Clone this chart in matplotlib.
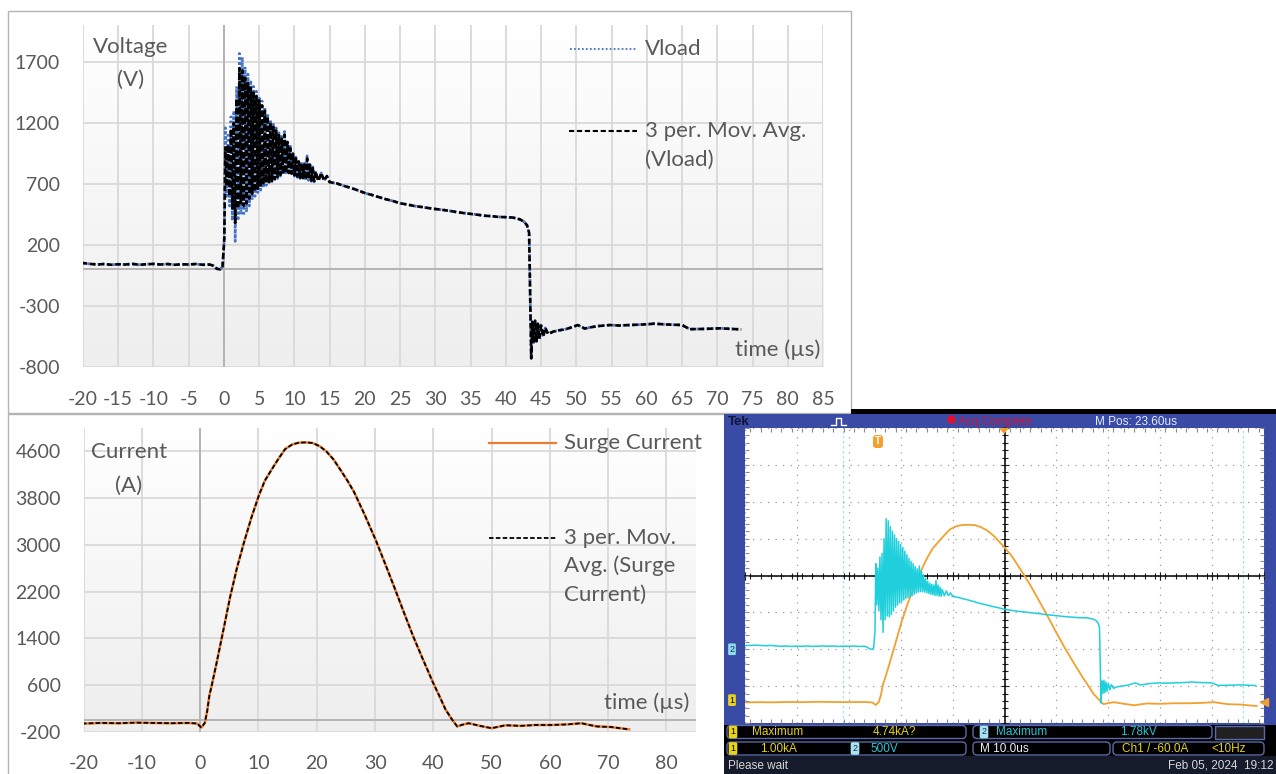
import numpy as np
import matplotlib.pyplot as plt
from matplotlib.colors import LinearSegmentedColormap
from matplotlib.patches import Rectangle, FancyBboxPatch, Polygon
from matplotlib.ticker import MultipleLocator

plt.rcParams['font.family'] = ['Lato', 'DejaVu Sans']
plt.rcParams['axes.unicode_minus'] = False

W, H = 1276, 774

# Vload (V) over time (us)
pre_t = [-25, -23, -21, -20, -19, -18, -17, -16, -15, -14, -13, -12, -11, -10, -9, -8,
         -7, -6, -5, -4, -3, -2, -1.5, -1.0, -0.5, -0.2, 0.05]
pre_v = [50, 55, 48, 52, 45, 40, 44, 38, 42, 40, 45, 38, 42, 45, 40, 44,
         38, 42, 40, 44, 38, 40, 30, 5, 0, 25, 250]

# ringing after the surge: peaks and dips of Vload and of its moving average
osc_t = [0.2, 0.4, 0.6, 0.8, 1.0, 1.2, 1.4, 1.6, 1.8, 2.0, 2.2, 2.4, 2.6, 2.8, 3.0,
         3.2, 3.4, 3.6, 3.8, 4.0, 4.2, 4.4, 4.6, 4.8, 5.0, 5.2, 5.4, 5.6, 5.8, 6.0,
         6.2, 6.4, 6.6, 6.8, 7.0, 7.2, 7.4, 7.6, 7.8, 8.0, 8.2, 8.4, 8.6, 8.8, 9.0,
         9.2, 9.4, 9.6, 9.8, 10.0, 10.2, 10.4, 10.6, 10.8, 11.0, 11.2, 11.4, 11.6, 11.8,
         12.0, 12.2, 12.4, 12.6, 12.8, 13.0]
osc_v = [1160, 600, 1100, 520, 1250, 400, 1300, 230, 1500, 400,
         1770, 450, 1740, 440, 1660, 470, 1600, 520, 1550, 570,
         1500, 600, 1460, 630, 1420, 650, 1380, 670, 1330, 690,
         1280, 700, 1230, 710, 1190, 725, 1160, 745, 1120, 765,
         1090, 775, 1130, 780, 1060, 780, 1010, 775, 960, 765,
         920, 755, 895, 745, 880, 740, 870, 730, 930, 730,
         870, 722, 840, 718, 810]
osc_avg = [1000, 680, 1020, 600, 1150, 500, 1200, 380, 1400, 500,
           1650, 540, 1630, 520, 1570, 540, 1530, 580, 1490, 620,
           1450, 640, 1420, 660, 1385, 680, 1345, 695, 1300, 710,
           1255, 715, 1205, 725, 1170, 740, 1140, 758, 1100, 775,
           1072, 785, 1105, 790, 1045, 790, 995, 785, 948, 772,
           910, 762, 885, 752, 870, 748, 860, 738, 910, 738,
           860, 728, 830, 724, 800]

post_t = [13.4, 13.8, 14.2, 14.6, 15.0, 16, 17, 18, 19, 20, 21, 22, 23, 24, 25, 26, 27,
          28, 29, 30, 31, 32, 33, 34, 35, 36, 37, 38, 39, 40, 41, 42, 42.6, 43.0, 43.3,
          43.45, 43.6, 43.75, 43.95, 44.15, 44.35, 44.55, 44.75, 45.0, 45.3, 45.6, 46.0,
          46.7, 47.5, 48.5, 49.5, 50.2, 51.2, 52.0, 53.0, 54.8, 56, 58, 60, 61, 63, 65,
          66.1, 68, 70.4, 72, 73.4]
post_v = [725, 790, 728, 765, 715, 705, 685, 668, 648, 626, 610, 592, 575, 560, 542, 532,
          520, 512, 503, 495, 488, 480, 470, 462, 455, 448, 440, 436, 430, 428, 425, 410,
          390, 362, 300, -200, -730, -430, -600, -420, -590, -445, -570, -460, -550, -480,
          -530, -510, -500, -490, -472, -456, -485, -475, -465, -456, -460, -455, -450,
          -445, -452, -456, -490, -488, -483, -488, -492]

vload_t = pre_t + osc_t + post_t
vload_v = pre_v + osc_v + post_v
vload_avg = pre_v + osc_avg + post_v

# Surge current (A) over time (us)
surge_t = [-25, -22, -20, -17, -14, -11, -8, -5, -2, -0.5,
           0.2, 0.79, 1.2, 1.58, 2.0, 2.76, 4.0, 5.12, 6.3, 7.48,
           8.8, 10.08, 11.1, 12.2, 13.4, 14.57, 15.8, 16.93, 18.1, 19.3,
           20.5, 21.66, 22.9, 24.03, 25.2, 26.38, 28.2, 30.09, 31.8, 33.48,
           35.0, 36.6, 38.3, 40.0, 41.0, 42.1, 43.2, 44.1, 45.0, 46.07,
           48.0, 50.0, 52.4, 55.0, 57.5, 60.3, 63.0, 65.4, 66.8, 68.1,
           70.5, 72.0, 73.6]
surge_a = [-60, -55, -60, -50, -55, -45, -50, -55, -50, -60,
           -130, -50, 150, 420, 600, 950, 1550, 2100, 2600, 3030,
           3470, 3850, 4100, 4280, 4470, 4640, 4720, 4750, 4755, 4745,
           4690, 4600, 4460, 4290, 4110, 3910, 3520, 3090, 2660, 2230,
           1830, 1420, 1020, 630, 420, 180, 10, -110, -80, -55,
           -100, -140, -90, -100, -85, -85, -75, -55, -85, -110,
           -120, -140, -160]
surge_avg = surge_a

volt_xticks = list(range(-20, 86, 5))
volt_yticks = [-800, -300, 200, 700, 1200, 1700]
curr_xticks = list(range(-20, 81, 10))
curr_yticks = [-200, 600, 1400, 2200, 3000, 3800, 4600]

# oscilloscope settings
ch2_pos, ch1_pos = -2.0, -3.38          # ground markers, divisions
volts_div, amps_div = 500, 1000
cursor_t = [-6.2, 71.0]
trig_level = -60.0

fig = plt.figure(figsize=(W / 100, H / 100), dpi=100)


def box(x0, y0, x1, y1):
    return [x0 / W, 1 - y1 / H, (x1 - x0) / W, (y1 - y0) / H]


back = fig.add_axes([0, 0, 1, 1], zorder=0)
back.set_xlim(0, W)
back.set_ylim(H, 0)
back.axis('off')
front = fig.add_axes([0, 0, 1, 1], zorder=10)
front.set_xlim(0, W)
front.set_ylim(H, 0)
front.axis('off')

# chart frames
back.add_patch(Rectangle((8, 11), 843, 402, fill=False, ec='#b4b4b4', lw=1))
back.add_patch(Rectangle((8, 414), 740, 380, fill=False, ec='#b4b4b4', lw=1))

bg_cmap = LinearSegmentedColormap.from_list('plotbg', ['#eeeeee', '#ffffff'])


def excel_axes(px, xlim, ylim, xt, yt):
    ax = fig.add_axes(box(*px), zorder=2)
    ax.imshow(np.linspace(0, 1, 256).reshape(-1, 1), cmap=bg_cmap, origin='lower',
              extent=[0, 1, 0, 1], transform=ax.transAxes, aspect='auto', zorder=-1)
    ax.set_xlim(xlim)
    ax.set_ylim(ylim)
    ax.set_xticks(xt)
    ax.set_yticks(yt)
    ax.grid(True, color='#d9d9d9', lw=1.3)
    ax.set_axisbelow(True)
    ax.axhline(0, color='#b4b4b4', lw=1.4, zorder=1)
    ax.axvline(0, color='#b4b4b4', lw=1.4, zorder=1)
    for s in ax.spines.values():
        s.set_visible(False)
    ax.tick_params(length=0, labelsize=14, labelcolor='#595959')
    ax.tick_params(axis='x', pad=17)
    ax.tick_params(axis='y', pad=16.5)
    return ax


# --- Voltage chart ---
ax1 = excel_axes((83, 25.4, 823, 367), (-20, 85), (-800, 2000), volt_xticks, volt_yticks)
ax1.plot(vload_t, vload_v, color='#4472c4', lw=2.0, ls=(0, (0.8, 1.0)), zorder=2)
ax1.plot(vload_t, vload_avg, color='black', lw=1.9, ls=(0, (2.2, 1.0)), zorder=3)

# --- Current chart ---
ax2 = excel_axes((83.6, 428.1, 695.6, 731.7), (-20, 85), (-200, 5000), curr_xticks, curr_yticks)
ax2.plot(surge_t, surge_a, color='#ed7d31', lw=1.8, zorder=2)
ax2.plot(surge_t, surge_avg, color='black', lw=1.3, ls=(0, (2.5, 1.3)), zorder=3)

txt = dict(color='#595959', fontsize=16, va='center')
front.text(131, 47, 'Voltage', ha='center', **txt)
front.text(131, 80, '(V)', ha='center', **txt)
front.text(820, 350, 'time (µs)', ha='right', **txt)
front.text(129, 452, 'Current', ha='center', **txt)
front.text(129, 486, '(A)', ha='center', **txt)
front.text(689, 703, 'time (µs)', ha='right', **txt)

front.plot([570, 636], [49, 49], color='#4472c4', lw=1.3, ls=(0, (1, 1.2)))
front.text(645, 49, 'Vload', ha='left', **txt)
front.plot([569, 637], [131, 131], color='black', lw=1.5, ls=(0, (2.5, 1.3)))
front.text(645, 131, '3 per. Mov. Avg.', ha='left', **txt)
front.text(645, 160, '(Vload)', ha='left', **txt)

front.plot([489, 556], [443, 443], color='#ed7d31', lw=1.6)
front.text(564, 443, 'Surge Current', ha='left', **txt)
front.plot([489, 556], [538, 538], color='black', lw=1.3, ls=(0, (2.5, 1.3)))
front.text(564, 538, '3 per. Mov.', ha='left', **txt)
front.text(564, 566, 'Avg. (Surge', ha='left', **txt)
front.text(564, 595, 'Current)', ha='left', **txt)

# --- Oscilloscope screenshot ---
back.add_patch(Rectangle((851, 409), 425, 5, fc='black', ec='none'))
back.add_patch(Rectangle((724, 414), 552, 311, fc='#3a4ba6', ec='none'))
back.add_patch(Rectangle((724, 725), 552, 31, fc='black', ec='none'))
back.add_patch(Rectangle((724, 756), 552, 18, fc='#161b2c', ec='none'))

gax = fig.add_axes(box(745, 428, 1264, 723), zorder=3)
gax.set_facecolor('white')
gax.set_xlim(-25, 75)
gax.set_ylim(-4, 4)
gax.set_xticks(list(range(-25, 76, 10)))
gax.set_yticks(list(range(-4, 5)))
gax.xaxis.set_minor_locator(MultipleLocator(2))
gax.yaxis.set_minor_locator(MultipleLocator(0.2))
gax.grid(True, which='major', color='#9a9a9a', lw=0.9, ls=(0, (1, 5)))
gax.spines['left'].set_position(('data', 25))
gax.spines['bottom'].set_position(('data', 0))
gax.spines['top'].set_visible(False)
gax.spines['right'].set_visible(False)
gax.spines['left'].set_linewidth(1.1)
gax.spines['bottom'].set_linewidth(1.1)
gax.tick_params(which='both', direction='inout', labelleft=False, labelbottom=False,
                color='#222222', width=0.8)
gax.tick_params(which='major', length=6)
gax.tick_params(which='minor', length=4)
for t in cursor_t:
    gax.axvline(t, color='#9fe6ee', lw=0.9, ls=(0, (2, 2)), zorder=1)

gax.plot(surge_t, [a / amps_div + ch1_pos for a in surge_a], color='#f2a02e', lw=1.3, zorder=4)
gax.plot(vload_t, [v / volts_div + ch2_pos for v in vload_v], color='#1fd0dc', lw=1.1, zorder=5)

eax = fig.add_axes(box(745, 428, 1264, 723), zorder=4, frameon=False)
eax.set_xlim(-25, 75)
eax.set_ylim(-4, 4)
eax.set_xticks([])
eax.set_yticks([])
eax.xaxis.set_minor_locator(MultipleLocator(2))
eax.yaxis.set_minor_locator(MultipleLocator(0.2))
eax.tick_params(which='minor', direction='in', top=True, bottom=True, left=True, right=True,
                length=3, color='#8a8a8a', width=0.8)

# channel ground markers and trigger level
gax.annotate('2', xy=(-25, ch2_pos), xytext=(-13, 0), textcoords='offset pixels',
             ha='center', va='center', fontsize=6.5, family='Liberation Sans', color='#1a2a60',
             annotation_clip=False,
             bbox=dict(boxstyle='round,pad=0.15', fc='#8fdcec', ec='none'))
gax.annotate('1', xy=(-25, ch1_pos), xytext=(-13, 0), textcoords='offset pixels',
             ha='center', va='center', fontsize=6.5, family='Liberation Sans', color='black',
             annotation_clip=False,
             bbox=dict(boxstyle='round,pad=0.15', fc='#e8d41c', ec='none'))
gax.plot([75], [trig_level / amps_div + ch1_pos], marker='<', color='#f2a02e', ms=6,
         clip_on=False, zorder=6)

# trigger position and expansion markers
front.add_patch(FancyBboxPatch((873, 435), 10, 13, boxstyle='round,pad=0,rounding_size=3',
                               fc='#f2a02e', ec='none'))
front.text(878, 441.5, 'T', ha='center', va='center', color='white', fontsize=7,
           family='Liberation Sans', fontweight='bold')
front.add_patch(Polygon([[999, 428], [1009, 428], [1004, 434]], closed=True, fc='#f2a02e', ec='none'))

sc = dict(family='Liberation Sans', fontsize=8.5, va='center')
front.text(728, 422, 'Tek', color='#101634', fontweight='bold', fontsize=9.5,
           family='Liberation Sans', va='center')
front.plot([831, 836, 836, 841, 841, 846], [425, 425, 418, 418, 425, 425], color='white', lw=1)
front.plot([951], [419], 'o', color='#e3102a', ms=5)
front.text(958, 422, 'Acq Complete', color='#c4163a', **sc)
front.text(1095, 422, 'M Pos: 23.60us', color='#e4eaff', **sc)

row = dict(boxstyle='round,pad=0,rounding_size=4', fc='black', ec='#5a6aa6', lw=1)
front.add_patch(FancyBboxPatch((727, 725.5), 239, 13, **row))
front.add_patch(FancyBboxPatch((973, 725.5), 239, 13, **row))
front.add_patch(FancyBboxPatch((1215, 725.5), 49, 13, boxstyle='square,pad=0', fc='#202020',
                               ec='#5a6aa6', lw=1))
front.add_patch(FancyBboxPatch((727, 742), 239, 13, **row))
front.add_patch(FancyBboxPatch((973, 742), 137, 13, **row))
front.add_patch(FancyBboxPatch((1113, 742), 151, 13, **row))

yel, cya = '#e6d31e', '#27c6d6'
pill_y = dict(boxstyle='round,pad=0.2', fc='#e8d41c', ec='none')
pill_c = dict(boxstyle='round,pad=0.2', fc='#a8e4f0', ec='none')
front.text(733, 732, '1', ha='center', color='black', bbox=pill_y, **{**sc, 'fontsize': 6.5})
front.text(752, 732, 'Maximum', color=yel, **sc)
front.text(873, 732, '4.74kA?', color=yel, **sc)
front.text(984, 732, '2', ha='center', color='#1a2a60', bbox=pill_c, **{**sc, 'fontsize': 6.5})
front.text(996, 732, 'Maximum', color=cya, **sc)
front.text(1120, 732, '1.78kV', color=cya, **sc)

front.text(733, 748.5, '1', ha='center', color='black', bbox=pill_y, **{**sc, 'fontsize': 6.5})
front.text(760, 748.5, '1.00kA', color=yel, **sc)
front.text(855, 748.5, '2', ha='center', color='#1a2a60', bbox=pill_c, **{**sc, 'fontsize': 6.5})
front.text(870, 748.5, '500V', color=cya, **sc)
front.text(980, 748.5, 'M 10.0us', color='#f0f0f0', **sc)
front.text(1122, 748.5, 'Ch1 / -60.0A', color=yel, **sc)
front.text(1211, 748.5, '<10Hz', color=yel, **sc)

front.text(728, 766, 'Please wait', color='#d8d8d8', **sc)
front.text(1273, 766, 'Feb 05, 2024  19:12', color='#d8d8d8', ha='right', **sc)

fig.savefig('out.png', dpi=100)
